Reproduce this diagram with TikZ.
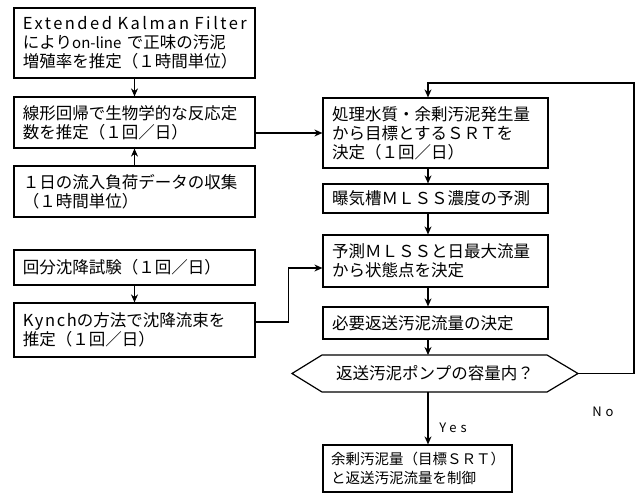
\documentclass[tikz,border=0pt]{standalone}
\usepackage{fontspec}
\newfontfamily\jp{Noto Sans CJK JP}
\newfontfamily\jplat[LetterSpace=30]{Noto Sans CJK JP}
\usetikzlibrary{arrows.meta,calc}
\begin{document}
\begin{tikzpicture}[x=1pt,y=-1pt,
  box/.style={draw, line width=1.2pt, rectangle, inner xsep=9pt, inner ysep=1pt,
    align=left, font=\jp\fontsize{16.5}{19}\selectfont},
  arr/.style={line width=1.2pt, -{Stealth[length=8pt,width=7pt]}},
  ln/.style={line width=1.2pt},
  lbl/.style={font=\jplat\fontsize{13}{15}\selectfont, inner sep=0pt}]
\useasboundingbox (0,0) rectangle (641,498);

% left column
\node[box, minimum width=241, minimum height=70, text width=223] (b1) at (134.5,43)
  {\mbox{{\addfontfeature{LetterSpace=15}Extended Kalman Filter}}\\ \mbox{により{\fontsize{15}{19}\selectfont on-line} で正味の汚泥}\\ \mbox{増殖率を推定（１時間単位）}};
\node[box, minimum width=241, minimum height=51, text width=223] (b2) at (134.5,122.5)
  {\mbox{線形回帰で生物学的な反応定}\\ 数を推定（１回／日）};
\node[box, minimum width=241, minimum height=51, text width=223] (b3) at (134.5,191.5)
  {\mbox{１日の流入負荷データの収集}\\ （１時間単位）};
\node[box, minimum width=241, minimum height=35, text width=223] (b4) at (134.5,267.5)
  {回分沈降試験（１回／日）};
\node[box, minimum width=241, minimum height=54, text width=223] (b5) at (134.5,330)
  {\mbox{{\addfontfeature{LetterSpace=10}Kynch}の方法で沈降流束を}\\ 推定（１回／日）};

% right column
\node[box, minimum width=225, minimum height=70, text width=207] (r1) at (435.5,133)
  {\mbox{処理水質・余剰汚泥発生量}\\ \mbox{から目標とするＳＲＴを}\\ 決定（１回／日）};
\node[box, minimum width=225, minimum height=29, text width=207] (r2) at (435.5,198.5)
  {\mbox{曝気槽ＭＬＳＳ濃度の予測}};
\node[box, minimum width=225, minimum height=52, text width=207] (r3) at (435.5,261)
  {\mbox{予測ＭＬＳＳと日最大流量}\\ から状態点を決定};
\node[box, minimum width=225, minimum height=32, text width=207] (r4) at (435.5,323)
  {必要返送汚泥流量の決定};
\node[font=\jp\fontsize{16.5}{19}\selectfont, inner sep=0pt] (dec) at (435,373.5)
  {返送汚泥ポンプの容量内？};
\node[box, minimum width=189, minimum height=47, text width=173, inner xsep=8pt,
  font=\jp\fontsize{14.5}{19}\selectfont] (fin) at (417.5,468.5)
  {\mbox{余剰汚泥量（目標ＳＲＴ）}\\ \mbox{と返送汚泥流量を制御}};

% decision outline
\coordinate (decL) at (292,373.5);
\coordinate (decR) at (578,373.5);
\draw[ln, line join=miter] (decL) -- (322,355) -- (547,355) -- (decR) -- (547,392) -- (322,392) -- cycle;
\coordinate (decT) at (428,355);
\coordinate (decB) at (428,392);

\coordinate (colx) at (428,0);
\coordinate (fbTop) at (634,83);

% connectors
\draw[arr] (b1.south) -- (b2.north);
\draw[arr] (b3.north) -- (b2.south);
\draw[arr] (b4.south) -- (b5.north);
\draw[arr] (b2.east |- r1.west) -- (r1.west);
\draw[arr] ([yshift=8pt]b5.east) -- ++(33,0) |- ([yshift=-7pt]r3.west);
\draw[arr] (r1.south -| colx) -- (r2.north -| colx);
\draw[arr] (r2.south -| colx) -- (r3.north -| colx);
\draw[arr] (r3.south -| colx) -- (r4.north -| colx);
\draw[arr] (r4.south -| colx) -- (decT);
\draw[arr] (decB) -- (fin.north -| colx);
\draw[arr] (decR) -| (fbTop) -| (r1.north -| colx);

\node[lbl] (yes) at (453,428) {Yes};
\node[lbl] (no) at (603,412) {No};
\end{tikzpicture}
\end{document}
